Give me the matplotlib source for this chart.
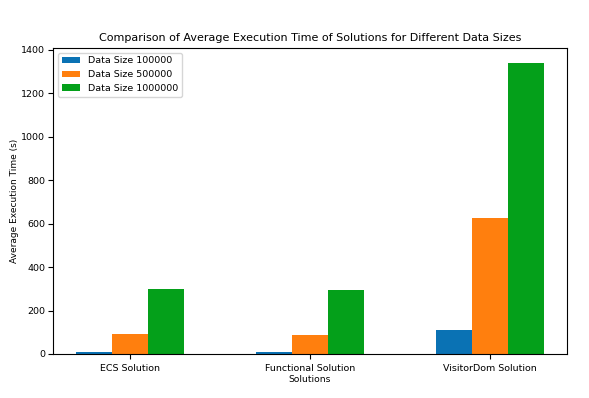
import numpy as np
import matplotlib.pyplot as plt

# Dados
solucoes = ['ECS Solution', 'Functional Solution', 'VisitorDom Solution']
tam_100k = [10, 8, 110]
tam_500k = [90, 88, 625]
tam_1m = [299, 295, 1342]
rotulos = ['Data Size 100000', 'Data Size 500000', 'Data Size 1000000']

x = np.arange(len(solucoes))
largura = 0.2

fig = plt.figure(figsize=(5.89, 3.98), dpi=100)
ax = fig.add_axes([0.09, 0.1106, 0.8727, 0.7688])

ax.bar(x - largura, tam_100k, largura, label=rotulos[0], color='#0a72b4')
ax.bar(x, tam_500k, largura, label=rotulos[1], color='#ff7f0e')
ax.bar(x + largura, tam_1m, largura, label=rotulos[2], color='#04a01a')

ax.set_xticks(x)
ax.set_xticklabels(solucoes, fontsize=6.8)
ax.tick_params(axis='y', labelsize=6.8, pad=2)
ax.set_xlabel('Solutions', fontsize=6.6, labelpad=2)
ax.set_ylabel('Average Execution Time (s)', fontsize=6.5)
ax.yaxis.set_label_coords(-0.067, 0.5)
ax.set_title('Comparison of Average Execution Time of Solutions for Different Data Sizes',
             fontsize=8, pad=5)
ax.legend(loc='upper left', fontsize=6.8)

fig.savefig('out.png', dpi=100)
